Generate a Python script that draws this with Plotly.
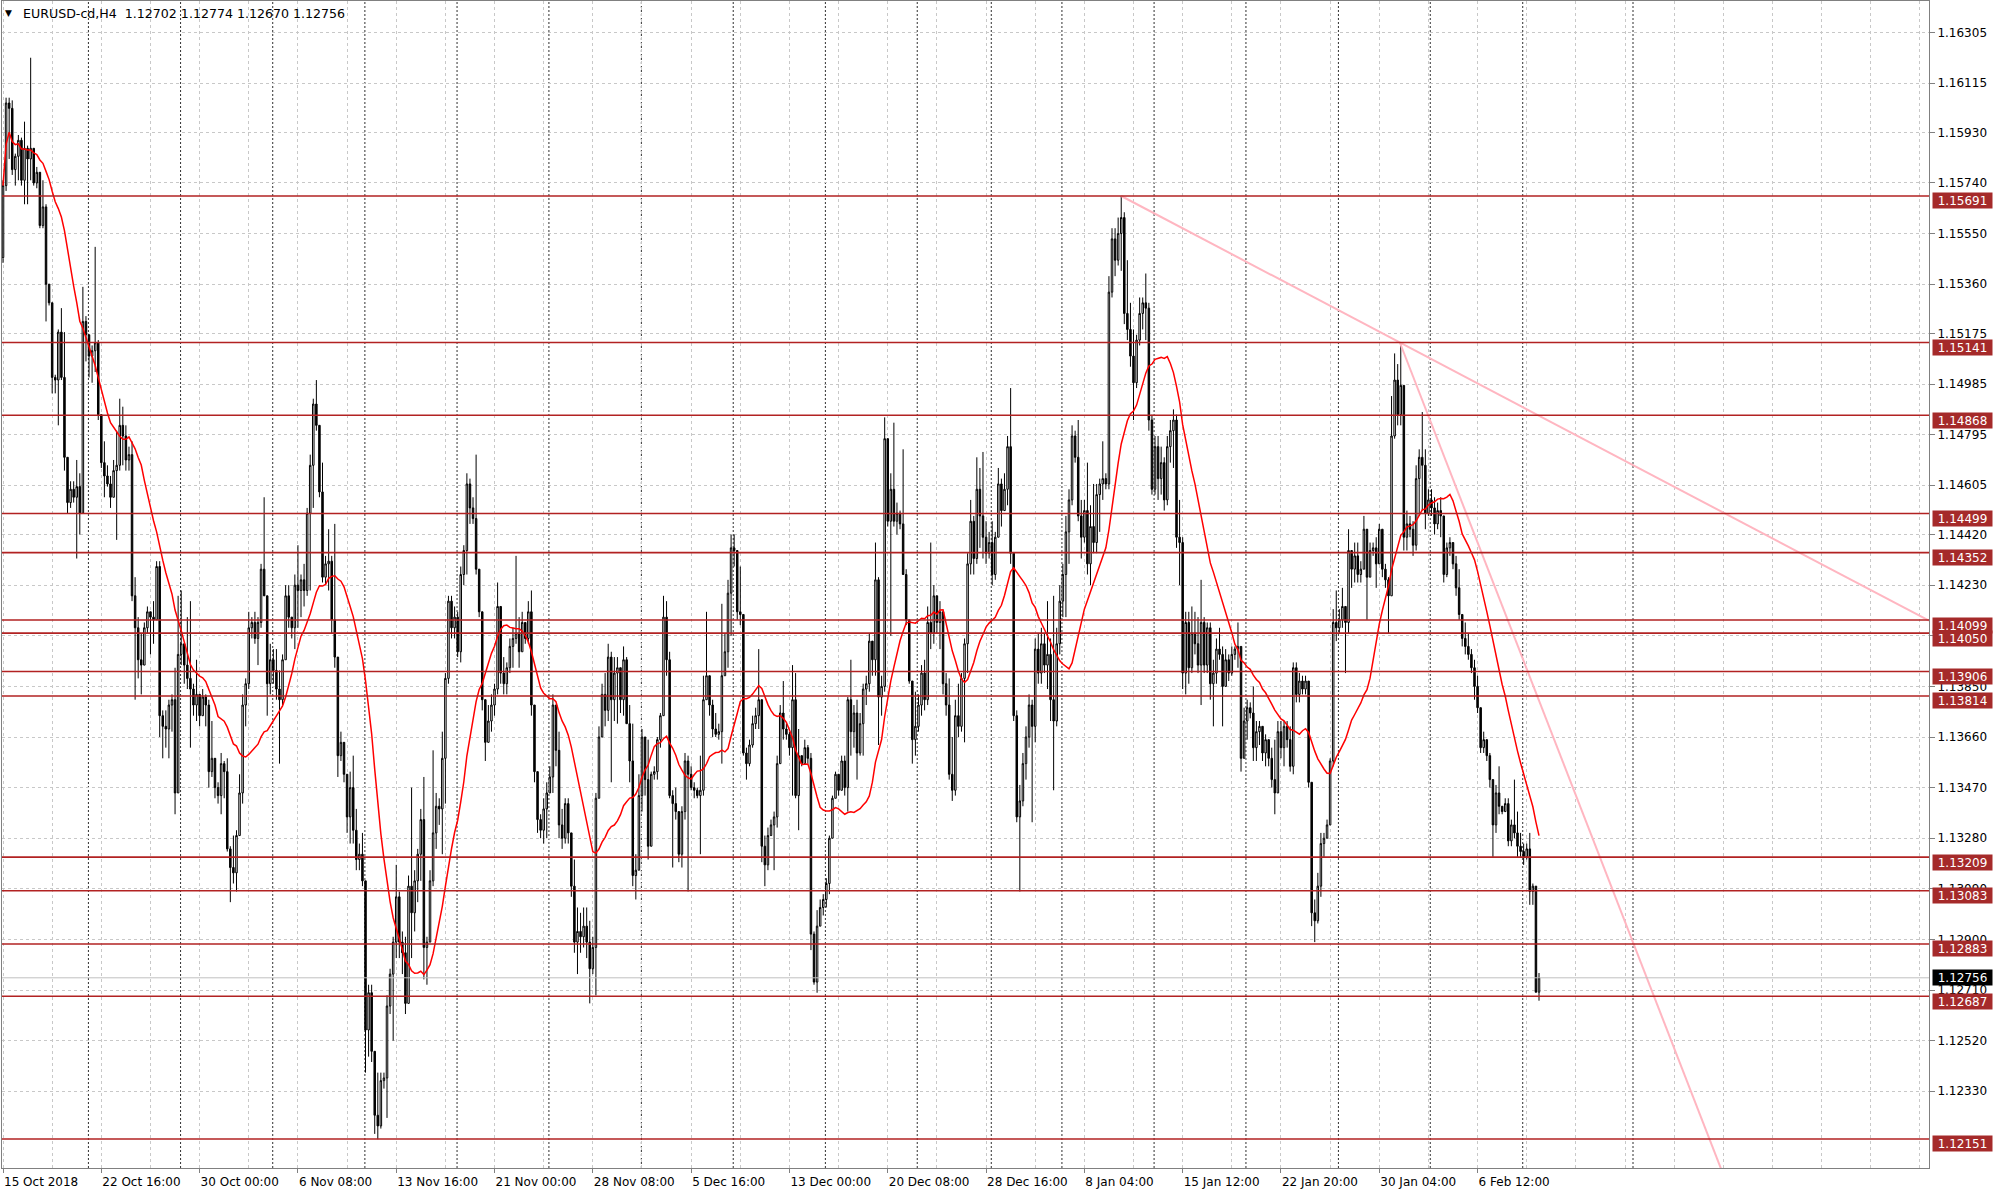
import plotly.graph_objects as go
import pandas as pd

symbol = "EURUSD-cd,H4"

opens = [
    1.1546, 1.1573, 1.1604, 1.1602, 1.1579, 1.1584, 1.1590, 1.1575, 1.1587, 1.1583,
    1.1587, 1.1574, 1.1578, 1.1558, 1.1565, 1.1536, 1.1529, 1.1501, 1.1500, 1.1518,
    1.1501, 1.1471, 1.1454, 1.1459, 1.1456, 1.1460, 1.1450, 1.1522, 1.1517, 1.1509,
    1.1511, 1.1514, 1.1487, 1.1469, 1.1464, 1.1461, 1.1456, 1.1466, 1.1468, 1.1483,
    1.1479, 1.1470, 1.1472, 1.1419, 1.1407, 1.1395, 1.1393, 1.1407, 1.1413, 1.1411,
    1.1410, 1.1430, 1.1374, 1.1370, 1.1369, 1.1378, 1.1380, 1.1345, 1.1397, 1.1401,
    1.1393, 1.1388, 1.1384, 1.1378, 1.1382, 1.1374, 1.1381, 1.1378, 1.1353, 1.1358,
    1.1347, 1.1344, 1.1356, 1.1353, 1.1324, 1.1317, 1.1315, 1.1329, 1.1345, 1.1378,
    1.1386, 1.1407, 1.1409, 1.1403, 1.1409, 1.1429, 1.1419, 1.1386, 1.1395, 1.1391,
    1.1384, 1.1380, 1.1395, 1.1419, 1.1411, 1.1407, 1.1423, 1.1421, 1.1425, 1.1421,
    1.1450, 1.1468, 1.1491,
    1.1483, 1.1458, 1.1426, 1.1431, 1.1432, 1.1410, 1.1396,
    1.1359, 1.1364, 1.1352, 1.1336, 1.1347, 1.1331, 1.1320, 1.1322, 1.1312, 1.1256,
    1.1270, 1.1248, 1.1224, 1.1220, 1.1237, 1.1238, 1.1265, 1.1277, 1.1289, 1.1306,
    1.1289, 1.1285, 1.1266, 1.1310, 1.1300, 1.1312, 1.1322, 1.1335, 1.1287, 1.1289,
    1.1312, 1.1330, 1.1340, 1.1339, 1.1358, 1.1388, 1.1417, 1.1407, 1.1411, 1.1398,
    1.1427, 1.1436, 1.1461, 1.1452, 1.1448, 1.1429, 1.1413, 1.1380, 1.1364, 1.1372,
    1.1378, 1.1384, 1.1415, 1.1390, 1.1386, 1.1392, 1.1400, 1.1403, 1.1405, 1.1398,
    1.1409, 1.1403, 1.1413, 1.1378, 1.1353, 1.1335, 1.1331, 1.1339, 1.1345, 1.1351,
    1.1378, 1.1361, 1.1333, 1.1328, 1.1341, 1.1330, 1.1310, 1.1289, 1.1293, 1.1291,
    1.1295, 1.1289, 1.1279, 1.1287, 1.1343, 1.1366, 1.1382, 1.1376, 1.1396, 1.1380,
    1.1390, 1.1392, 1.1380, 1.1395, 1.1371, 1.1357, 1.1314, 1.1316, 1.1344, 1.1366,
    1.1350, 1.1325, 1.1352, 1.1353, 1.1365, 1.1374, 1.1411, 1.1395, 1.1344, 1.1341,
    1.1338, 1.1322, 1.1338, 1.1357, 1.1352, 1.1347, 1.1346, 1.1344, 1.1346, 1.1380,
    1.1389, 1.1378, 1.1369, 1.1367, 1.1368, 1.1389, 1.1398, 1.1420, 1.1437, 1.1436,
    1.1413, 1.1412, 1.1360, 1.1356, 1.1363, 1.1371, 1.1374, 1.1380, 1.1325, 1.1318,
    1.1329, 1.1333, 1.1336, 1.1356, 1.1375, 1.1369, 1.1367, 1.1362, 1.1380, 1.1344,
    1.1359, 1.1356, 1.1362, 1.1358, 1.1292, 1.1274, 1.1295, 1.1302, 1.1305, 1.1311,
    1.1328, 1.1343, 1.1352, 1.1346, 1.1357, 1.1347, 1.1380, 1.1368, 1.1375, 1.1360,
    1.1371, 1.1384, 1.1386, 1.1402, 1.1395, 1.1425, 1.1381, 1.1385, 1.1478, 1.1447,
    1.1459, 1.1447, 1.1450, 1.1446, 1.1427, 1.1410, 1.1387, 1.1365,
    1.1370, 1.1378,
    1.1390, 1.1380, 1.1409, 1.1405, 1.1419, 1.1409, 1.1413, 1.1386, 1.1378, 1.1352,
    1.1346, 1.1374, 1.1370, 1.1388, 1.1401, 1.1431, 1.1447, 1.1433, 1.1459, 1.1449,
    1.1441, 1.1435, 1.1439, 1.1427, 1.1441, 1.1461, 1.1451, 1.1459, 1.1475, 1.1435,
    1.1374, 1.1336, 1.1342, 1.1356, 1.1366, 1.1378, 1.1370, 1.1399, 1.1390, 1.1401,
    1.1393, 1.1397, 1.1380, 1.1372, 1.1401, 1.1417, 1.1427, 1.1443, 1.1455, 1.1479,
    1.1471, 1.1449, 1.1441, 1.1451, 1.1431, 1.1445, 1.1439, 1.1457, 1.1461, 1.1463,
    1.1461, 1.1533, 1.1553, 1.1545, 1.1555, 1.1561, 1.1525, 1.1519, 1.1509, 1.1499,
    1.1515, 1.1525, 1.1529, 1.1527, 1.1485, 1.1459, 1.1475, 1.1463, 1.1469, 1.1455,
    1.1475, 1.1481, 1.1485, 1.1441, 1.1439, 1.1390, 1.1409, 1.1392, 1.1405, 1.1401,
    1.1393, 1.1409, 1.1393, 1.1407, 1.1386, 1.1390, 1.1399,
    1.1397, 1.1385, 1.1395,
    1.1390, 1.1397, 1.1399, 1.1400, 1.1358, 1.1372, 1.1377, 1.1375, 1.1362, 1.1368,
    1.1370, 1.1360, 1.1365, 1.1358, 1.1350, 1.1345, 1.1368, 1.1362, 1.1370, 1.1365,
    1.1355, 1.1392, 1.1382, 1.1387, 1.1384, 1.1387, 1.1349, 1.1300, 1.1297, 1.1310,
    1.1326, 1.1328, 1.1333, 1.1357, 1.1409, 1.1407, 1.1410, 1.1415, 1.1409, 1.1436,
    1.1429, 1.1434, 1.1427, 1.1429, 1.1444, 1.1426, 1.1436, 1.1437, 1.1431, 1.1444,
    1.1429, 1.1425, 1.1419, 1.1479, 1.1500, 1.1487, 1.1498, 1.1441, 1.1446, 1.1444,
    1.1438, 1.1463, 1.1471, 1.1468, 1.1450, 1.1455, 1.1452, 1.1446, 1.1451, 1.1449,
    1.1427, 1.1437, 1.1439, 1.1431, 1.1422, 1.1412, 1.1403, 1.1400, 1.1397, 1.1392,
    1.1385, 1.1377, 1.1362, 1.1365, 1.1359, 1.1350, 1.1333, 1.1345, 1.1340, 1.1338,
    1.1341, 1.1327, 1.1333, 1.1330, 1.1325, 1.1323, 1.1321, 1.1324, 1.1308, 1.1310,
    1.12702,
]

highs = [
    1.1575, 1.1606, 1.1606, 1.1605, 1.1585, 1.1592, 1.1591, 1.1597, 1.1588, 1.1621,
    1.1587, 1.1580, 1.1578, 1.1575, 1.1566, 1.1536, 1.1529, 1.1502, 1.1519, 1.1527,
    1.1518, 1.1471, 1.1462, 1.1462, 1.1470, 1.1465, 1.1535, 1.1524, 1.1517, 1.1513,
    1.1550, 1.1515, 1.1487, 1.1477, 1.1468, 1.1464, 1.1470, 1.1481, 1.1493, 1.1490,
    1.1483, 1.1475, 1.1477, 1.1426, 1.1411, 1.1405, 1.1409, 1.1415, 1.1413, 1.1417,
    1.1432, 1.1432, 1.1376, 1.1376, 1.1380, 1.1382, 1.1392, 1.1419, 1.1421, 1.1401,
    1.1411, 1.1417, 1.1386, 1.1395, 1.1382, 1.1384, 1.1382, 1.1380, 1.1372, 1.1358,
    1.1349, 1.1360, 1.1357, 1.1358, 1.1325, 1.1329, 1.1331, 1.1352, 1.1382, 1.1388,
    1.1413, 1.1411, 1.1413, 1.1411, 1.1431, 1.1456, 1.1419, 1.1401, 1.1399, 1.1399,
    1.1391, 1.1397, 1.1423, 1.1423, 1.1411, 1.1427, 1.1438, 1.1427, 1.1431, 1.1452,
    1.1472, 1.1493, 1.1500,
    1.1483, 1.1469, 1.1434, 1.1444, 1.1434, 1.1446, 1.1396,
    1.1368, 1.1364, 1.1352, 1.1353, 1.1359, 1.1339, 1.1326, 1.1330, 1.1312, 1.1273,
    1.1273, 1.1248, 1.1240, 1.1240, 1.1240, 1.1269, 1.1279, 1.1291, 1.1318, 1.1308,
    1.1293, 1.1291, 1.1314, 1.1347, 1.1316, 1.1324, 1.1339, 1.1351, 1.1291, 1.1316,
    1.1361, 1.1345, 1.1343, 1.1368, 1.1390, 1.1419, 1.1419, 1.1415, 1.1413, 1.1430,
    1.1438, 1.1465, 1.1463, 1.1456, 1.1472, 1.1429, 1.1413, 1.1380, 1.1378, 1.1382,
    1.1386, 1.1424, 1.1415, 1.1396, 1.1394, 1.1403, 1.1407, 1.1434, 1.1411, 1.1413,
    1.1409, 1.1417, 1.1421, 1.1378, 1.1353, 1.1337, 1.1343, 1.1349, 1.1355, 1.1382,
    1.1378, 1.1368, 1.1339, 1.1343, 1.1343, 1.1330, 1.1320, 1.1302, 1.1300, 1.1302,
    1.1302, 1.1297, 1.1291, 1.1345, 1.1370, 1.1386, 1.1390, 1.1401, 1.1398, 1.1396,
    1.1396, 1.1392, 1.1400, 1.1396, 1.1378, 1.1371, 1.1322, 1.1352, 1.1369, 1.1366,
    1.1365, 1.1353, 1.1355, 1.1366, 1.1375, 1.1419, 1.1417, 1.1398, 1.1346, 1.1347,
    1.1338, 1.1340, 1.1360, 1.1359, 1.1355, 1.1349, 1.1347, 1.1359, 1.1389, 1.1413,
    1.1389, 1.1380, 1.1375, 1.1371, 1.1416, 1.1405, 1.1425, 1.1442, 1.1442, 1.1436,
    1.1430, 1.1412, 1.1362, 1.1365, 1.1374, 1.1377, 1.1399, 1.1380, 1.1329, 1.1332,
    1.1335, 1.1338, 1.1359, 1.1378, 1.1387, 1.1371, 1.1368, 1.1393, 1.1390, 1.1369,
    1.1359, 1.1365, 1.1363, 1.1360, 1.1293, 1.1301, 1.1305, 1.1307, 1.1313, 1.1329,
    1.1344, 1.1353, 1.1352, 1.1359, 1.1359, 1.1381, 1.1395, 1.1378, 1.1380, 1.1375,
    1.1386, 1.1389, 1.1405, 1.1402, 1.1439, 1.1426, 1.1389, 1.1486, 1.1478, 1.1465,
    1.1484, 1.1454, 1.1451, 1.1474, 1.1429, 1.1410, 1.1387, 1.1383,
    1.1382, 1.1393,
    1.1395, 1.1415, 1.1439, 1.1423, 1.1419, 1.1417, 1.1413, 1.1390, 1.1388, 1.1366,
    1.1380, 1.1386, 1.1390, 1.1403, 1.1435, 1.1455, 1.1449, 1.1471, 1.1467, 1.1473,
    1.1447, 1.1443, 1.1447, 1.1443, 1.1467, 1.1463, 1.1465, 1.1479, 1.1497, 1.1435,
    1.1376, 1.1348, 1.1360, 1.1370, 1.1382, 1.1380, 1.1403, 1.1405, 1.1407, 1.1405,
    1.1417, 1.1403, 1.1419, 1.1407, 1.1423, 1.1431, 1.1449, 1.1459, 1.1483, 1.1481,
    1.1485, 1.1455, 1.1455, 1.1469, 1.1453, 1.1461, 1.1461, 1.1463, 1.1477, 1.1465,
    1.1539, 1.1557, 1.1557, 1.1561, 1.15691, 1.1563, 1.1545, 1.1529, 1.1519, 1.1517,
    1.1531, 1.1531, 1.1540, 1.1529, 1.1487, 1.1479, 1.1479, 1.1475, 1.1471, 1.1479,
    1.1485, 1.1489, 1.1487, 1.1455, 1.1441, 1.1413, 1.1413, 1.1415, 1.1413, 1.1411,
    1.1425, 1.1411, 1.1409, 1.1409, 1.1395, 1.1403, 1.1407,
    1.1400, 1.1399, 1.1397,
    1.1400, 1.1400, 1.1409, 1.1400, 1.1377, 1.1380, 1.1379, 1.1385, 1.1372, 1.1372,
    1.1370, 1.1367, 1.1365, 1.1362, 1.1365, 1.1372, 1.1372, 1.1372, 1.1372, 1.1370,
    1.1394, 1.1394, 1.1390, 1.1389, 1.1389, 1.1387, 1.1349, 1.1305, 1.1315, 1.1330,
    1.1330, 1.1335, 1.1358, 1.1414, 1.1421, 1.1414, 1.1422, 1.1415, 1.1444, 1.1436,
    1.1439, 1.1439, 1.1432, 1.1449, 1.1444, 1.1439, 1.1439, 1.1441, 1.1446, 1.1444,
    1.1431, 1.1426, 1.1494, 1.1510, 1.1506, 1.15141, 1.1498, 1.1451, 1.1449, 1.1447,
    1.1468, 1.1474, 1.1488, 1.1474, 1.1459, 1.1459, 1.1456, 1.1454, 1.1456, 1.1449,
    1.1439, 1.1441, 1.1439, 1.1434, 1.1429, 1.1412, 1.1409, 1.1405, 1.1399, 1.1395,
    1.1389, 1.1377, 1.1368, 1.1365, 1.1360, 1.1350, 1.1348, 1.1355, 1.1340, 1.1343,
    1.1343, 1.1335, 1.1350, 1.1338, 1.1330, 1.1326, 1.1326, 1.1330, 1.1311, 1.1310,
    1.12774,
]

lows = [
    1.1544, 1.1571, 1.1583, 1.1577, 1.1573, 1.1575, 1.1573, 1.1566, 1.1566, 1.1575,
    1.1573, 1.1572, 1.1557, 1.1557, 1.1522, 1.1528, 1.1495, 1.1495, 1.1483, 1.1500,
    1.1466, 1.1450, 1.1452, 1.1454, 1.1433, 1.1442, 1.1450, 1.1507, 1.1501, 1.1499,
    1.1503, 1.1485, 1.1467, 1.1456, 1.1460, 1.1452, 1.1456, 1.1440, 1.1466, 1.1468,
    1.1466, 1.1466, 1.1417, 1.1380, 1.1388, 1.1382, 1.1393, 1.1405, 1.1397, 1.1401,
    1.1410, 1.1366, 1.1358, 1.1362, 1.1358, 1.1368, 1.1337, 1.1345, 1.1393, 1.1386,
    1.1384, 1.1362, 1.1374, 1.1372, 1.1370, 1.1374, 1.1370, 1.1347, 1.1351, 1.1343,
    1.1341, 1.1337, 1.1343, 1.1323, 1.1304, 1.1311, 1.1308, 1.1329, 1.1341, 1.1370,
    1.1384, 1.1403, 1.1401, 1.1393, 1.1407, 1.1419, 1.1374, 1.1382, 1.1386, 1.1380,
    1.1356, 1.1378, 1.1395, 1.1407, 1.1403, 1.1399, 1.1407, 1.1411, 1.1415, 1.1419,
    1.1421, 1.1452, 1.1481,
    1.1456, 1.1424, 1.1423, 1.1421, 1.1405, 1.1392, 1.1351,
    1.1357, 1.1349, 1.1330, 1.1326, 1.1326, 1.1316, 1.1316, 1.1310, 1.1240, 1.1246,
    1.1244, 1.1217, 1.1215, 1.1219, 1.1234, 1.1223, 1.1262, 1.1252, 1.1283, 1.1283,
    1.1277, 1.1262, 1.1266, 1.1283, 1.1293, 1.1304, 1.1312, 1.1275, 1.1273, 1.1289,
    1.1310, 1.1324, 1.1333, 1.1322, 1.1341, 1.1386, 1.1403, 1.1403, 1.1396, 1.1394,
    1.1423, 1.1427, 1.1446, 1.1446, 1.1427, 1.1411, 1.1376, 1.1357, 1.1364, 1.1368,
    1.1374, 1.1382, 1.1386, 1.1382, 1.1382, 1.1390, 1.1392, 1.1401, 1.1392, 1.1398,
    1.1401, 1.1401, 1.1374, 1.1349, 1.1330, 1.1328, 1.1326, 1.1328, 1.1345, 1.1345,
    1.1355, 1.1328, 1.1324, 1.1326, 1.1326, 1.1306, 1.1285, 1.1277, 1.1285, 1.1287,
    1.1283, 1.1266, 1.1277, 1.1269, 1.1343, 1.1366, 1.1370, 1.1372, 1.1349, 1.1372,
    1.1371, 1.1375, 1.1374, 1.1371, 1.1349, 1.1310, 1.1305, 1.1316, 1.1338, 1.1344,
    1.1320, 1.1325, 1.1350, 1.1350, 1.1362, 1.1374, 1.1389, 1.1343, 1.1317, 1.1335,
    1.1319, 1.1317, 1.1335, 1.1308, 1.1346, 1.1343, 1.1343, 1.1322, 1.1344, 1.1380,
    1.1374, 1.1366, 1.1366, 1.1365, 1.1356, 1.1389, 1.1392, 1.1404, 1.1430, 1.1410,
    1.1408, 1.1359, 1.1350, 1.1355, 1.1362, 1.1369, 1.1369, 1.1319, 1.1310, 1.1316,
    1.1329, 1.1316, 1.1332, 1.1356, 1.1365, 1.1365, 1.1359, 1.1344, 1.1343, 1.1331,
    1.1355, 1.1356, 1.1356, 1.1286, 1.1273, 1.1270, 1.1295, 1.1299, 1.1302, 1.1307,
    1.1328, 1.1343, 1.1344, 1.1346, 1.1344, 1.1338, 1.1359, 1.1362, 1.1350, 1.1359,
    1.1359, 1.1378, 1.1383, 1.1389, 1.1389, 1.1363, 1.1374, 1.1383, 1.1445, 1.1404,
    1.1445, 1.1442, 1.1444, 1.1427, 1.1408, 1.1386, 1.1356, 1.1359,
    1.1368, 1.1374,
    1.1376, 1.1378, 1.1399, 1.1401, 1.1405, 1.1399, 1.1382, 1.1374, 1.1350, 1.1342,
    1.1344, 1.1366, 1.1368, 1.1364, 1.1390, 1.1427, 1.1427, 1.1431, 1.1437, 1.1433,
    1.1431, 1.1433, 1.1423, 1.1425, 1.1441, 1.1445, 1.1451, 1.1453, 1.1431, 1.1372,
    1.1334, 1.1308, 1.1340, 1.1350, 1.1362, 1.1334, 1.1364, 1.1386, 1.1386, 1.1390,
    1.1384, 1.1372, 1.1346, 1.1370, 1.1397, 1.1411, 1.1411, 1.1431, 1.1453, 1.1469,
    1.1447, 1.1433, 1.1439, 1.1427, 1.1423, 1.1435, 1.1435, 1.1443, 1.1455, 1.1459,
    1.1459, 1.1531, 1.1539, 1.1543, 1.1541, 1.1521, 1.1515, 1.1505, 1.1485, 1.1497,
    1.1513, 1.1519, 1.1515, 1.1481, 1.1457, 1.1457, 1.1455, 1.1457, 1.1451, 1.1453,
    1.1469, 1.1467, 1.1437, 1.1423, 1.1384, 1.1382, 1.1386, 1.1390, 1.1397, 1.1390,
    1.1378, 1.1390, 1.1390, 1.1380, 1.1370, 1.1386, 1.1395,
    1.1370, 1.1385, 1.1387,
    1.1389, 1.1395, 1.1392, 1.1353, 1.1358, 1.1365, 1.1373, 1.1357, 1.1357, 1.1363,
    1.1357, 1.1355, 1.1355, 1.1347, 1.1337, 1.1345, 1.1358, 1.1355, 1.1362, 1.1353,
    1.1352, 1.1379, 1.1379, 1.1382, 1.1382, 1.1347, 1.1295, 1.1289, 1.1296, 1.1306,
    1.1321, 1.1328, 1.1333, 1.1355, 1.1402, 1.1405, 1.1407, 1.1390, 1.1405, 1.1422,
    1.1424, 1.1424, 1.1424, 1.1429, 1.1410, 1.1426, 1.1434, 1.1422, 1.1431, 1.1426,
    1.1422, 1.1405, 1.1419, 1.1478, 1.1483, 1.1483, 1.1436, 1.1436, 1.1441, 1.1434,
    1.1436, 1.1449, 1.1451, 1.1444, 1.1449, 1.1449, 1.1442, 1.1444, 1.1441, 1.1424,
    1.1426, 1.1434, 1.1429, 1.1419, 1.1410, 1.1400, 1.1397, 1.1395, 1.1390, 1.1380,
    1.1375, 1.1360, 1.1360, 1.1357, 1.1347, 1.1321, 1.1330, 1.1337, 1.1337, 1.1338,
    1.1325, 1.1325, 1.1328, 1.1321, 1.1321, 1.1318, 1.1320, 1.1303, 1.1303, 1.1271,
    1.12670,
]

closes = [
    1.1573, 1.1604, 1.1602, 1.1579, 1.1584, 1.1590, 1.1575, 1.1587, 1.1583, 1.1587,
    1.1574, 1.1578, 1.1558, 1.1565, 1.1536, 1.1529, 1.1501, 1.1500, 1.1518, 1.1501,
    1.1471, 1.1454, 1.1459, 1.1456, 1.1460, 1.1450, 1.1522, 1.1517, 1.1509, 1.1511,
    1.1514, 1.1487, 1.1469, 1.1464, 1.1461, 1.1456, 1.1466, 1.1468, 1.1483, 1.1479,
    1.1470, 1.1472, 1.1419, 1.1407, 1.1395, 1.1393, 1.1407, 1.1413, 1.1411, 1.1410,
    1.1430, 1.1374, 1.1370, 1.1369, 1.1378, 1.1380, 1.1345, 1.1397, 1.1401, 1.1393,
    1.1388, 1.1384, 1.1378, 1.1382, 1.1374, 1.1381, 1.1378, 1.1353, 1.1358, 1.1347,
    1.1344, 1.1356, 1.1353, 1.1324, 1.1317, 1.1315, 1.1329, 1.1345, 1.1378, 1.1386,
    1.1407, 1.1409, 1.1403, 1.1409, 1.1429, 1.1419, 1.1386, 1.1395, 1.1391, 1.1384,
    1.1380, 1.1395, 1.1419, 1.1411, 1.1407, 1.1423, 1.1421, 1.1425, 1.1421, 1.1450,
    1.1468, 1.1491, 1.1483,
    1.1458, 1.1426, 1.1431, 1.1432, 1.1410, 1.1396, 1.1359,
    1.1364, 1.1352, 1.1336, 1.1347, 1.1331, 1.1320, 1.1322, 1.1312, 1.1256, 1.1270,
    1.1248, 1.1224, 1.1220, 1.1237, 1.1238, 1.1265, 1.1277, 1.1289, 1.1306, 1.1289,
    1.1285, 1.1266, 1.1310, 1.1300, 1.1312, 1.1322, 1.1335, 1.1287, 1.1289, 1.1312,
    1.1330, 1.1340, 1.1339, 1.1358, 1.1388, 1.1417, 1.1407, 1.1411, 1.1398, 1.1427,
    1.1436, 1.1461, 1.1452, 1.1448, 1.1429, 1.1413, 1.1380, 1.1364, 1.1372, 1.1378,
    1.1384, 1.1415, 1.1390, 1.1386, 1.1392, 1.1400, 1.1403, 1.1405, 1.1398, 1.1409,
    1.1403, 1.1413, 1.1378, 1.1353, 1.1335, 1.1331, 1.1339, 1.1345, 1.1351, 1.1378,
    1.1361, 1.1333, 1.1328, 1.1341, 1.1330, 1.1310, 1.1289, 1.1293, 1.1291, 1.1295,
    1.1289, 1.1279, 1.1287, 1.1343, 1.1366, 1.1382, 1.1376, 1.1396, 1.1380, 1.1390,
    1.1392, 1.1380, 1.1395, 1.1371, 1.1357, 1.1314, 1.1316, 1.1344, 1.1366, 1.1350,
    1.1325, 1.1352, 1.1353, 1.1365, 1.1374, 1.1411, 1.1395, 1.1344, 1.1341, 1.1338,
    1.1322, 1.1338, 1.1357, 1.1352, 1.1347, 1.1346, 1.1344, 1.1346, 1.1380, 1.1389,
    1.1378, 1.1369, 1.1367, 1.1368, 1.1389, 1.1398, 1.1420, 1.1437, 1.1436, 1.1413,
    1.1412, 1.1360, 1.1356, 1.1363, 1.1371, 1.1374, 1.1380, 1.1325, 1.1318, 1.1329,
    1.1333, 1.1336, 1.1356, 1.1375, 1.1369, 1.1367, 1.1362, 1.1380, 1.1344, 1.1359,
    1.1356, 1.1362, 1.1358, 1.1292, 1.1274, 1.1295, 1.1302, 1.1305, 1.1311, 1.1328,
    1.1343, 1.1352, 1.1346, 1.1357, 1.1347, 1.1380, 1.1368, 1.1375, 1.1360, 1.1371,
    1.1384, 1.1386, 1.1402, 1.1395, 1.1425, 1.1381, 1.1385, 1.1478, 1.1447, 1.1459,
    1.1447, 1.1450, 1.1446, 1.1427, 1.1410, 1.1387, 1.1365, 1.1370,
    1.1378, 1.1390,
    1.1380, 1.1409, 1.1405, 1.1419, 1.1409, 1.1413, 1.1386, 1.1378, 1.1352, 1.1346,
    1.1374, 1.1370, 1.1388, 1.1401, 1.1431, 1.1447, 1.1433, 1.1459, 1.1449, 1.1441,
    1.1435, 1.1439, 1.1427, 1.1441, 1.1461, 1.1451, 1.1459, 1.1475, 1.1435, 1.1374,
    1.1336, 1.1342, 1.1356, 1.1366, 1.1378, 1.1370, 1.1399, 1.1390, 1.1401, 1.1393,
    1.1397, 1.1380, 1.1372, 1.1401, 1.1417, 1.1427, 1.1443, 1.1455, 1.1479, 1.1471,
    1.1449, 1.1441, 1.1451, 1.1431, 1.1445, 1.1439, 1.1457, 1.1461, 1.1463, 1.1461,
    1.1533, 1.1553, 1.1545, 1.1555, 1.1561, 1.1525, 1.1519, 1.1509, 1.1499, 1.1515,
    1.1525, 1.1529, 1.1527, 1.1485, 1.1459, 1.1475, 1.1463, 1.1469, 1.1455, 1.1475,
    1.1481, 1.1485, 1.1441, 1.1439, 1.1390, 1.1409, 1.1392, 1.1405, 1.1401, 1.1393,
    1.1409, 1.1393, 1.1407, 1.1386, 1.1390, 1.1399, 1.1397,
    1.1385, 1.1395, 1.1390,
    1.1397, 1.1399, 1.1400, 1.1358, 1.1372, 1.1377, 1.1375, 1.1362, 1.1368, 1.1370,
    1.1360, 1.1365, 1.1358, 1.1350, 1.1345, 1.1368, 1.1362, 1.1370, 1.1365, 1.1355,
    1.1392, 1.1382, 1.1387, 1.1384, 1.1387, 1.1349, 1.1300, 1.1297, 1.1310, 1.1326,
    1.1328, 1.1333, 1.1357, 1.1409, 1.1407, 1.1410, 1.1415, 1.1409, 1.1436, 1.1429,
    1.1434, 1.1427, 1.1429, 1.1444, 1.1426, 1.1436, 1.1437, 1.1431, 1.1444, 1.1429,
    1.1425, 1.1419, 1.1479, 1.1500, 1.1487, 1.1498, 1.1441, 1.1446, 1.1444, 1.1438,
    1.1463, 1.1471, 1.1468, 1.1450, 1.1455, 1.1452, 1.1446, 1.1451, 1.1449, 1.1427,
    1.1437, 1.1439, 1.1431, 1.1422, 1.1412, 1.1403, 1.1400, 1.1397, 1.1392, 1.1385,
    1.1377, 1.1362, 1.1365, 1.1359, 1.1350, 1.1333, 1.1345, 1.1340, 1.1338, 1.1341,
    1.1327, 1.1333, 1.1330, 1.1325, 1.1323, 1.1321, 1.1324, 1.1308, 1.1310, 1.12702,
    1.12756,
]

ma_period = 20

date_labels = ["15 Oct 2018", "22 Oct 16:00", "30 Oct 00:00", "6 Nov 08:00",
               "13 Nov 16:00", "21 Nov 00:00", "28 Nov 08:00", "5 Dec 16:00",
               "13 Dec 00:00", "20 Dec 08:00", "28 Dec 16:00", "8 Jan 04:00",
               "15 Jan 12:00", "22 Jan 20:00", "30 Jan 04:00", "6 Feb 12:00"]
date_label_bars = [0, 32, 64, 96, 128, 160, 192, 224, 256, 288, 320, 352, 384, 416, 448, 480]

price_ticks = [1.16305, 1.16115, 1.15930, 1.15740, 1.15550, 1.15360, 1.15175, 1.14985,
               1.14795, 1.14605, 1.14420, 1.14230, 1.14040, 1.13850, 1.13660, 1.13470,
               1.13280, 1.13090, 1.12900, 1.12710, 1.12520, 1.12330]

level_prices = [1.15691, 1.15141, 1.14868, 1.14499, 1.14352, 1.14099, 1.14050,
                1.13906, 1.13814, 1.13209, 1.13083, 1.12883, 1.12687, 1.12151]

week_separator_bars = [27.8, 57.8, 87.8, 117.8, 147.8, 177.7, 207.8, 237.7, 267.7,
                       297.6, 321.7, 344.7, 374.7, 404.6, 434.7, 464.6, 494.7, 530.6]

trend_lines = [((364.0, 1.15691), (454.7, 1.15141)),
               ((454.7, 1.15141), (512.3, 1.13432))]

# ---------------- view / style ----------------
X_LO, X_HI = -0.33, 626.95
Y_LO, Y_HI = 1.12042, 1.16423
FONT = "DejaVu Sans"
LEVEL_LINE = "#B22222"
LEVEL_BOX = "#A52A2A"
GRID = "#C8C8C8"

bars = list(range(len(closes)))
ma = pd.Series(closes).rolling(ma_period, min_periods=1).mean()

fig = go.Figure()

fig.add_trace(go.Candlestick(
    x=bars, open=opens, high=highs, low=lows, close=closes,
    increasing=dict(line=dict(color="#000000", width=1), fillcolor="#FFFFFF"),
    decreasing=dict(line=dict(color="#000000", width=1), fillcolor="#000000"),
    whiskerwidth=0, hoverinfo="skip", showlegend=False,
))

fig.add_trace(go.Scatter(
    x=bars, y=ma, mode="lines", line=dict(color="#FF0000", width=1.5),
    hoverinfo="skip", showlegend=False,
))

for (xa, ya), (xb, yb) in trend_lines:
    slope = (yb - ya) / (xb - xa)
    fig.add_trace(go.Scatter(
        x=[xa, X_HI], y=[ya, ya + slope * (X_HI - xa)], mode="lines",
        line=dict(color="#FFB6C1", width=2), hoverinfo="skip", showlegend=False,
    ))

shapes = []
for b in week_separator_bars:
    shapes.append(dict(type="line", xref="x", yref="paper", x0=b, x1=b, y0=0, y1=1,
                       layer="between", line=dict(color="#303030", width=1, dash="2px,2px")))

last_close = closes[-1]
shapes.append(dict(type="line", xref="paper", yref="y", x0=0, x1=1, y0=last_close, y1=last_close,
                   layer="above", line=dict(color="#C0C0C0", width=1)))
for lv in level_prices:
    shapes.append(dict(type="line", xref="paper", yref="y", x0=0, x1=1, y0=lv, y1=lv,
                       layer="above", line=dict(color=LEVEL_LINE, width=1.6)))

annotations = []
for lv in level_prices:
    annotations.append(dict(
        x=1, xref="paper", y=lv, yref="y", xanchor="left", yanchor="middle",
        xshift=3, yshift=-5, text=f"{lv:.5f}", showarrow=False,
        font=dict(family=FONT, size=12, color="#FFFFFF"),
        bgcolor=LEVEL_BOX, width=57, height=13, borderpad=1, align="center"))
annotations.append(dict(
    x=1, xref="paper", y=last_close, yref="y", xanchor="left", yanchor="middle",
    xshift=3, yshift=0, text=f"{last_close:.5f}", showarrow=False,
    font=dict(family=FONT, size=12, color="#FFFFFF"),
    bgcolor="#000000", width=57, height=13, borderpad=1, align="center"))

header = f"{symbol}  {opens[-1]:.5f} {highs[-1]:.5f} {lows[-1]:.5f} {closes[-1]:.5f}"
annotations.append(dict(x=0, xref="paper", y=1, yref="paper", xanchor="left", yanchor="top",
                        xshift=19, yshift=-3, text=header, showarrow=False,
                        font=dict(family=FONT, size=12.6, color="#000000")))
annotations.append(dict(x=0, xref="paper", y=1, yref="paper", xanchor="left", yanchor="top",
                        xshift=1, yshift=-5, text="\u25BC", showarrow=False,
                        font=dict(family=FONT, size=9, color="#000000")))

fig.update_layout(
    width=2000, height=1194,
    margin=dict(l=2, r=71, t=1, b=26, pad=0),
    paper_bgcolor="#FFFFFF", plot_bgcolor="#FFFFFF",
    showlegend=False,
    font=dict(family=FONT, size=12, color="#000000"),
    shapes=shapes, annotations=annotations,
    xaxis=dict(
        range=[X_LO, X_HI], tickmode="array", tickvals=date_label_bars, ticktext=date_labels,
        ticks="outside", ticklen=4, tickcolor="#808080", ticklabelposition="outside right",
        ticklabelstandoff=3,
        tickfont=dict(family=FONT, size=12, color="#000000"),
        showgrid=True, gridcolor=GRID, griddash="3px,3px", gridwidth=1,
        minor=dict(dtick=16, tick0=0, showgrid=True, gridcolor=GRID, griddash="3px,3px",
                   gridwidth=1, ticks=""),
        showline=True, linecolor="#808080", linewidth=1, mirror=True, zeroline=False,
        rangeslider=dict(visible=False), automargin=False, fixedrange=True,
    ),
    yaxis=dict(
        side="right", range=[Y_LO, Y_HI], tickmode="array", tickvals=price_ticks,
        ticktext=[f"{v:.5f}" for v in price_ticks],
        ticks="outside", ticklen=5, tickcolor="#808080",
        tickfont=dict(family=FONT, size=12, color="#000000"),
        showgrid=True, gridcolor=GRID, griddash="3px,3px", gridwidth=1,
        showline=True, linecolor="#808080", linewidth=1, mirror=True, zeroline=False,
        automargin=False, fixedrange=True,
    ),
)

fig.write_html(
    "out.html",
    config={"displayModeBar": False, "staticPlot": True},
    post_script="document.body.style.margin='0';document.body.style.overflow='hidden';",
)
